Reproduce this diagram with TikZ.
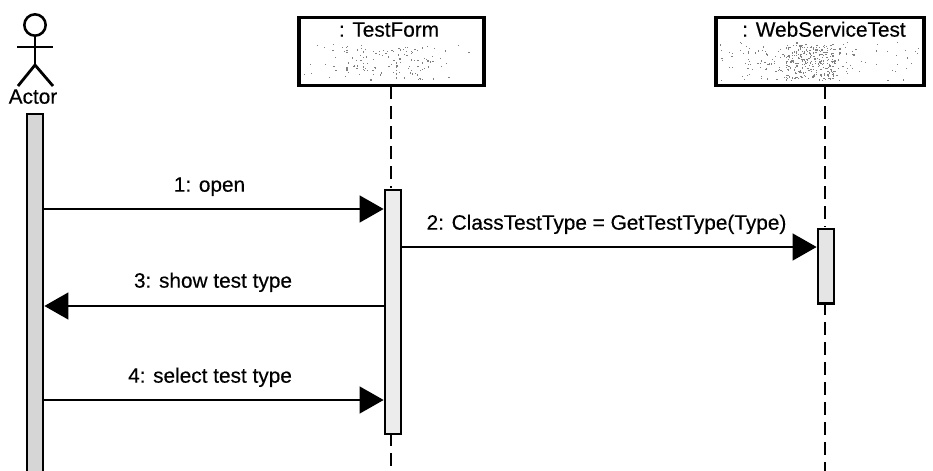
\documentclass[tikz,border=0pt]{standalone}
\usepackage{fontspec}
\setmainfont{Liberation Sans}[FakeBold=0.35]
\usetikzlibrary{arrows.meta,fit}
\tikzset{
  ink/.style={line width=2.1pt,black},
  objbox/.style={draw=black,line width=2.6pt,fill=white,minimum height=51pt,inner sep=0pt,anchor=north},
  act/.style={draw=black,line width=2pt,inner sep=0pt,minimum width=12pt,anchor=north},
  life/.style={line width=1.8pt,dash pattern=on 10pt off 5pt},
  msg/.style={line width=1.8pt,-{Triangle[length=18pt,width=20pt]}},
  lbl/.style={font=\fontsize{15.6}{18}\selectfont,inner sep=0pt,text height=11.5pt,text depth=3pt}
}
\newcommand{\speck}[5]{% x0 y0 w h count
  \foreach \i in {1,...,#5}{
    \pgfmathsetmacro{\sx}{#1+rnd*#3}
    \pgfmathsetmacro{\sy}{#2+rnd*#4}
    \fill[black!50] (\sx,\sy) rectangle ++(1.2,1.2);
  }}
\begin{document}
\begin{tikzpicture}[x=0.75pt,y=-0.75pt]
\useasboundingbox (0,0) rectangle (933,471);
\fill[white] (0,0) rectangle (933,471);
\pgfmathsetseed{11}
% actor
\node[draw=black,line width=1.9pt,circle,minimum size=16pt,inner sep=0pt,fill=white] (head) at (35,25) {};
\coordinate (hip) at (35,65);
\coordinate (armL) at (17,47);
\coordinate (armR) at (53,47);
\coordinate (legL) at (18,86);
\coordinate (legR) at (53,86);
\draw[ink] (head.south) -- (hip);
\draw[ink] (armL) -- (armR);
\draw[ink,line join=round] (legL) -- (hip) -- (legR);
\node[lbl] (actor) at (33,98) {Actor};
% objects
\node[objbox,minimum width=138.5pt] (tf) at (391.5,16) {};
\node[objbox,minimum width=156pt] (ws) at (820,16) {};
\speck{303}{42}{176}{38}{45}
\speck{345}{46}{90}{34}{90}
\speck{720}{42}{200}{38}{80}
\speck{745}{46}{110}{34}{110}
\speck{785}{44}{50}{36}{190}
\node[lbl] (tft) at (389,31) {: TestForm};
\node[lbl] (wst) at (824,31) {: WebServiceTest};
% lifeline ends
\coordinate (tfEnd) at (391,471);
\coordinate (wsEnd) at (825,471);
% activations
\node[act,fill=gray!32,minimum height=271pt] (aa) at (35,112.5) {};
\node[act,fill=gray!15,minimum height=183pt] (at) at (393,188.5) {};
\node[act,fill=gray!20,minimum height=56pt] (aw) at (826,227.5) {};
% lifelines
\draw[life] (391,86) -- (391,188);
\draw[life] (391,433) -- (tfEnd);
\draw[life] (825,86) -- (825,227);
\draw[life] (825,302) -- (wsEnd);
% messages
\draw[msg] (aa.east |- 0,209) -- (at.west |- 0,209);
\draw[msg] (at.east |- 0,247) -- (aw.west |- 0,247);
\draw[msg] (at.west |- 0,306) -- (aa.east |- 0,306);
\draw[msg] (aa.east |- 0,400) -- (at.west |- 0,400);
% labels
\node[lbl] (m1) at (209.5,186) {1: open};
\node[lbl] (m2) at (606.5,224) {2: ClassTestType = GetTestType(Type)};
\node[lbl] (m3) at (213,282) {3: show test type};
\node[lbl] (m4) at (210,377) {4: select test type};
\end{tikzpicture}
\end{document}
